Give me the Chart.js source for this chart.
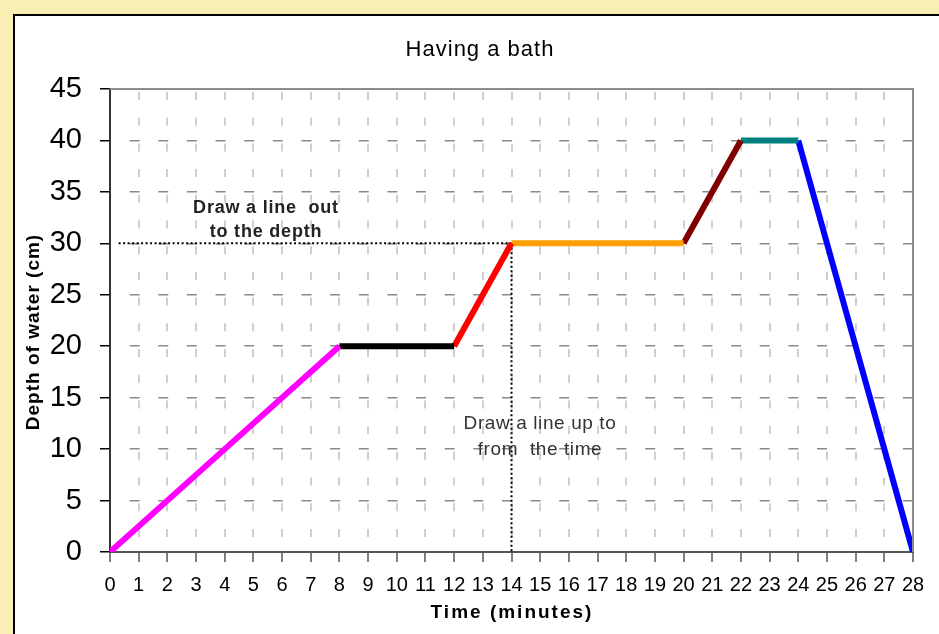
<!DOCTYPE html>
<html>
<head>
<meta charset="utf-8">
<title>Having a bath</title>
<script src="https://cdn.jsdelivr.net/npm/chart.js@4.4.1/dist/chart.umd.min.js"></script>
<style>
  html, body { margin: 0; padding: 0; background: #f9efb4; }
  #wrap { width: 939px; height: 634px; }
</style>
</head>
<body>
<div id="wrap"><canvas id="bathChart" width="939" height="634"></canvas></div>
<script>
// time (minutes) / depth (cm) for each part of the bath
var fillX = [0, 4, 8];
var fillY = [0, 10, 20];
var waitX = [8, 10, 12];
var waitY = [20, 20, 20];
var fill2X = [12, 14];
var fill2Y = [20, 30];
var soakX = [14, 16, 18, 20];
var soakY = [30, 30, 30, 30];
var topUpX = [20, 22];
var topUpY = [30, 40];
var soak2X = [22, 24];
var soak2Y = [40, 40];
var drainX = [24, 28];
var drainY = [40, 0];

// dotted guide lines
var guideHX = [0.3, 14];
var guideHY = [30, 30];
var guideVX = [14, 14];
var guideVY = [30, 0];

var xTicks = [0, 28, 1];   // min, max, step
var yTicks = [0, 45, 5];

var FONT = "'Liberation Sans', Arial, sans-serif";

function pts(xs, ys) {
	return xs.map(function(x, i) { return { x: x, y: ys[i] }; });
}

function seg(xs, ys, color) {
	return {
		data: pts(xs, ys),
		showLine: true,
		borderColor: color,
		backgroundColor: color,
		borderWidth: 6,
		pointRadius: 0,
		tension: 0,
		fill: false
	};
}

function guide(xs, ys) {
	return {
		data: pts(xs, ys),
		showLine: true,
		borderColor: '#000',
		borderWidth: 2,
		borderDash: [2, 2.5],
		pointRadius: 0,
		fill: false
	};
}

var datasets = [
	seg(fillX, fillY, '#ff00ff'),
	seg(waitX, waitY, '#000000'),
	seg(fill2X, fill2Y, '#ff0000'),
	seg(soakX, soakY, '#ffa000'),
	seg(topUpX, topUpY, '#800000'),
	seg(soak2X, soak2Y, '#008080'),
	seg(drainX, drainY, '#0000ff'),
	guide(guideHX, guideHY),
	guide(guideVX, guideVY)
];

// page frame, plot border and text
var decor = {
	id: 'decor',
	beforeDraw: function(chart) {
		var c = chart.ctx;
		c.save();
		c.fillStyle = '#f9efb4';
		c.fillRect(0, 0, chart.width, chart.height);
		c.fillStyle = '#ffffff';
		c.fillRect(13, 14, chart.width, chart.height);
		c.strokeStyle = '#000';
		c.lineWidth = 2;
		c.beginPath();
		c.moveTo(14, chart.height + 5);
		c.lineTo(14, 15);
		c.lineTo(chart.width + 5, 15);
		c.stroke();
		c.restore();
	},
	afterDatasetsDraw: function(chart) {
		var c = chart.ctx, a = chart.chartArea;
		c.save();
		// top and right plot border
		c.strokeStyle = '#8c8c8c';
		c.lineWidth = 2;
		c.beginPath();
		c.moveTo(a.left, a.top);
		c.lineTo(a.right, a.top);
		c.lineTo(a.right, a.bottom);
		c.stroke();
		c.restore();
	},
	afterDraw: function(chart) {
		var c = chart.ctx;
		c.save();
		c.fillStyle = '#000';
		c.textAlign = 'center';
		c.textBaseline = 'middle';

		c.font = '22px ' + FONT;
		c.letterSpacing = '1px';
		c.fillText('Having a bath', 480, 50);

		c.font = 'bold 19px ' + FONT;
		c.letterSpacing = '2px';
		c.fillText('Time (minutes)', 512, 613);

		c.save();
		c.translate(34, 332);
		c.rotate(-Math.PI / 2);
		c.letterSpacing = '1px';
		c.fillText('Depth of water (cm)', 0, 0);
		c.restore();

		// notes next to the guide lines
		c.fillStyle = '#222';
		c.font = 'bold 18px ' + FONT;
		c.letterSpacing = '0.8px';
		c.fillText('Draw a line  out', 266, 208);
		c.fillText('to the depth', 266, 232);

		c.fillStyle = '#333';
		c.font = '19px ' + FONT;
		c.letterSpacing = '0.6px';
		c.fillText('Draw a line up to', 540, 424);
		c.fillText('from  the time', 540, 450);
		c.restore();
	}
};

var ctx = document.getElementById('bathChart').getContext('2d');
var bathChart = new Chart(ctx, {
	type: 'scatter',
	data: { datasets: datasets },
	options: {
		responsive: false,
		animation: false,
		layout: { padding: { top: 89, right: 26, left: 0, bottom: 0 } },
		plugins: {
			legend: { display: false },
			tooltip: { enabled: false },
			title: { display: false }
		},
		scales: {
			x: {
				type: 'linear',
				min: xTicks[0],
				max: xTicks[1],
				afterFit: function(s) { s.height = 82; },
				ticks: {
					stepSize: xTicks[2],
					color: '#000',
					padding: 11,
					maxRotation: 0,
					autoSkip: false,
					font: { family: FONT, size: 20 }
				},
				grid: {
					color: '#cfcfcf',
					lineWidth: 2,
					tickLength: 10,
					tickColor: '#555',
					tickWidth: 1.5
				},
				border: { color: '#555', width: 2, dash: [8, 17.7], dashOffset: -3 }
			},
			y: {
				type: 'linear',
				min: yTicks[0],
				max: yTicks[1],
				afterFit: function(s) { s.width = 110; },
				ticks: {
					stepSize: yTicks[2],
					color: '#000',
					padding: 18,
					font: { family: FONT, size: 29 }
				},
				grid: {
					color: '#8a8a8a',
					lineWidth: 1.5,
					tickLength: 10,
					tickColor: '#000',
					tickWidth: 1.5
				},
				border: { color: '#333', width: 2, dash: [10, 18.64], dashOffset: 10 }
			}
		}
	},
	plugins: [decor]
});
</script>
</body>
</html>
